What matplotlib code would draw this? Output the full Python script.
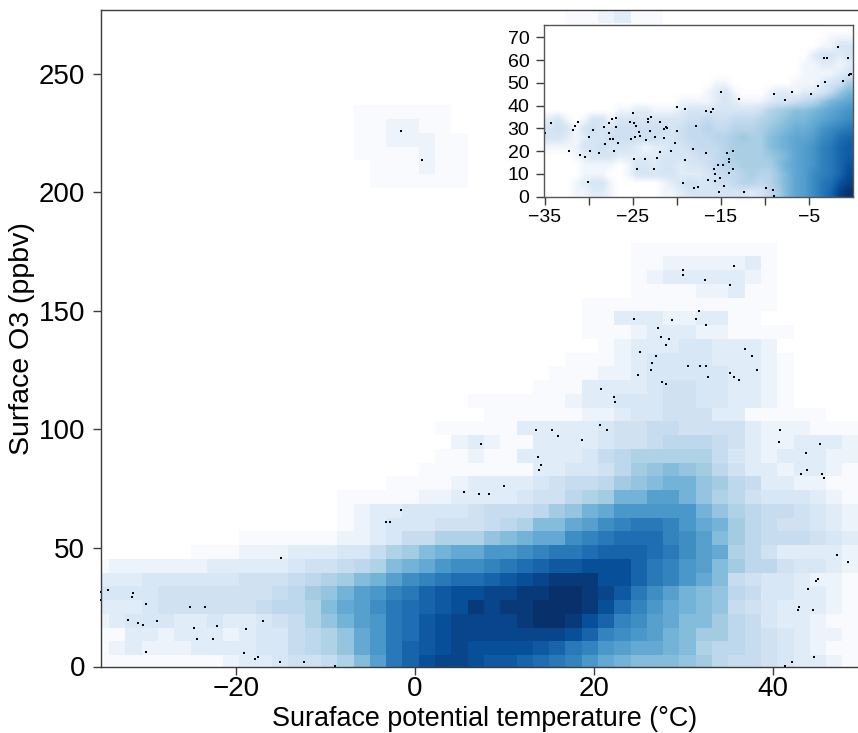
import numpy as np
import matplotlib
matplotlib.use("Agg")
import matplotlib.pyplot as plt
from matplotlib.colors import LinearSegmentedColormap, PowerNorm

plt.rcParams["font.family"] = ["Liberation Sans", "DejaVu Sans"]

BLANK = "0" * 47

# density of each grid cell, bottom row first, one character per cell (0-9 then a-p = 0..25)
main_density = [
    "1111111123 345568beik mnnmllkjih fdcbbba976 6543321",
    "1232223333 44678adfik lmnmmmmlki hfeddcb877 6543211",
    "1133233323 44678adfij lmnnnnnnnm khgfecb997 6543221",
    "2344433433 4568acefij lmnnnnoppo mkhgedbb97 6433211",
    "3334555555 6778bdegij klmonooppp omjhfdcba6 5433321",
    "4444555555 5679acefhi klmmnnoopp onligecba7 6443321",
    "3334444445 556789bceg hijjklmnoo ommkihfdb6 5443221",
    "1222222333 33455678bc dfgghijkll mmmkihfeb9 7754432",
    "0000001112 2233344689 bcddffghii jkkkjiged8 7533332",
    "0000000001 1111122346 6888abcddg hijjjhgeb9 7666543",
    "0000000000 0000012344 4555678bbd eghiihfdc9 7655432",
    "0000000000 0000012334 444566679a cdfffffca8 7665432",
    "0000000000 0000011111 2233334557 89cceeca87 5444321",
    "0000000000 0000000011 1123333456 679abcca97 6332211",
    "0000000000 0000000000 1111111334 4579aba975 3323321",
    "0000000000 0000000000 0112113333 4678888864 3233322",
    "0000000000 0000000000 0023211333 3455677765 3223332",
    "0000000000 0000000000 0111113333 3455665555 3222111",
    "0000000000 0000000000 0000111111 2234455533 1111100",
    "0000000000 0000000000 0001111112 3344455443 3210000",
    "0000000000 0000000000 0000000111 3333455443 3210000",
    "0000000000 0000000000 0000000011 1223444443 3210000",
    "0000000000 0000000000 0000000001 1123444433 3210000",
    "0000000000 0000000000 0000000000 0123334433 3200000",
    "0000000000 0000000000 0000000000 1112333221 1110000",
    "0000000000 0000000000 0000000000 1133322331 1000000",
    "0000000000 0000000000 0000000000 1111111111 1100000",
    "0000000000 0000000000 0000000000 0001111223 1100000",
    "0000000000 0000000000 0000000000 0001233333 2100000",
    "0000000000 0000000000 0000000000 0001122222 3100000",
    "0000000000 0000000000 0000000000 0001111111 1100000",
    BLANK, BLANK, BLANK, BLANK,
    "0000000000 0000000111 1110000000 0000000000 0000000",
    "0000000000 0000000111 2110000000 0000000000 0000000",
    "0000000000 0000001111 2110000000 0000000000 0000000",
    "0000000000 0000001122 2110000000 0000000000 0000000",
    "0000000000 0000001122 1100000000 0000000000 0000000",
    "0000000000 0000001111 1100000000 0000000000 0000000",
    BLANK, BLANK, BLANK, BLANK, BLANK,
    "0000000000 0000000000 0000000001 1111100000 0000000",
    "0000000000 0000000000 0000000001 1231100000 0000000",
]

# inset density: 1 degree by 4 ppbv cells, bottom row first
inset_density = [
    "00011221" "00000" "11" "2" "3333333" "2" "3" "57acd" "fhjnp",
    "00012331" "00000" "12" "3" "4" "33" "44" "56" "65" "68acd" "fhiln",
    "0000111" "00" "1" "33333" "222" "34" "55" "67" "66" "8acd" "fghjm",
    "0000" "1111" "0" "1" "33" "2" "33" "2" "33" "4" "5" "66" "7777" "9bcd" "eghjl",
    "000" "12333" "22222" "3333" "44" "5" "6" "7777" "8" "9" "acd" "eghjk",
    "1111" "33" "4" "333" "2" "1" "22" "33" "4" "555" "6" "7777" "9abcd" "eghjk",
    "33" "21" "2" "33" "444444" "33" "4" "555" "66" "7" "8" "77" "9abcc" "dfgij",
    "34" "3" "1" "34" "33" "444444" "3" "4" "55" "6" "55" "666" "7" "89abb" "cefgh",
    "23" "1" "0" "1" "33" "1" "33333333" "44" "5" "44" "555" "6" "789aa" "bcdef",
    "00000000" "11" "22" "111" "2" "33333333" "4" "67899" "abcde",
    "000000000000000" "1111" "2" "3" "2" "111" "2" "33" "4" "5" "68abc",
    "000000000000000000" "1231" "000" "1" "22" "1" "2" "2" "3" "5" "8" "a",
    "0000000000000000000" "11" "0000000" "111" "2347",
    "00000000000000000000000000000" "111123",
    "00000000000000000000000000000" "112212",
    "000000000000000000000000000000" "23323",
    "0000000000000000000000000000000" "1133",
    "00000000000000000000000000000000" "111",
    "00000000000000000000000000000000000",
]

main_temp = [-35.1, -34.3, -35.1, -31.5, -31.6, -30.0, -32.1, -30.9, -30.4, -28.8, -30.1, -25.1, -23.5,
             -24.7, -24.4, -22.6, -22.1, -18.9, -17.0, -19.1, -17.9, -17.5, -15.1, -12.4, -8.9, -15.0,
             -3.2, -2.8, -1.6, 7.4, 5.5, 7.1, 8.3, 9.9, 22.3, 13.5, 15.3, 16.0, 18.7, 20.7, 21.5, 13.7,
             14.1, 13.9, 40.8, 40.7, 45.3, 43.7, 43.1, 43.8, 45.5, 45.7, 47.2, 48.4, 45.0, 44.8, 43.9,
             42.9, 42.8, 44.5, 44.6, 42.1, 41.3, -1.6, 0.8, 29.9, 30.0, 32.4, 35.7, 35.2, 31.7, 31.4,
             32.5, 24.5, 28.7, 27.1, 27.5, 28.4, 28.0, 25.1, 26.9, 26.5, 26.4, 24.9, 30.5, 31.9, 32.5,
             32.7, 27.6, 28.1, 36.9, 37.7, 38.2, 35.2, 35.6, 36.2, 20.8, 22.2, 22.3]
main_o3 = [31.4, 32.2, 27.9, 31.1, 29.3, 26.2, 19.8, 18.3, 17.4, 19.3, 6.2, 25.2, 25.1,
           16.3, 11.8, 11.8, 16.9, 15.9, 19.4, 5.9, 3.2, 3.9, 1.8, 1.8, 0.2, 45.9,
           60.9, 60.9, 65.9, 93.9, 73.8, 72.8, 72.8, 76.0, 111.8, 99.9, 99.9, 97.1, 95.4, 102.1, 99.9, 88.3,
           85.0, 82.9, 99.9, 94.9, 93.9, 89.9, 81.4, 82.8, 81.4, 79.5, 46.9, 44.0, 37.0, 35.9, 32.8,
           24.9, 23.8, 23.9, 3.9, 1.8, 0.2, 225.8, 213.7, 167.1, 165.1, 163.0, 168.8, 161.0, 150.0, 146.8,
           144.0, 146.8, 146.0, 142.7, 138.9, 138.0, 135.8, 132.9, 130.9, 128.0, 124.9, 122.8, 126.8, 126.8, 126.8,
           122.0, 119.9, 119.1, 133.9, 130.9, 124.9, 124.0, 122.0, 120.8, 117.0, 113.9, 111.8]

inset_temp = [-35.0, -34.3, -31.8, -31.6, -31.2, -30.0, -29.5, -32.2, -31.0, -30.4, -29.8, -28.8, -30.1,
              -28.2, -28.3, -27.7, -27.4, -26.9, -26.9, -27.7, -27.6, -27.2, -26.7, -27.1, -25.0, -25.3,
              -24.9, -24.6, -24.3, -24.7, -24.2, -25.2, -23.5, -23.0, -22.5, -23.3, -23.3, -22.9, -21.9,
              -21.4, -21.4, -21.2, -21.1, -20.0, -20.0, -19.1, -17.8, -20.2, -20.7, -18.2, -21.9, -22.2,
              -24.8, -23.6, -24.5, -22.6, -19.1, -19.3, -18.0, -17.6, -15.0, -12.9, -16.7, -16.1, -15.9,
              -16.7, -14.3, -13.6, -14.1, -14.1, -14.7, -15.3, -15.8, -15.7, -14.1, -13.6, -15.1, -16.5,
              -15.7, -14.6, -15.2, -12.4, -9.8, -9.1, -9.0, -8.9, -7.7, -6.9, -4.7, -3.9, -3.1, -3.25,
              -2.9, -1.7, -0.5, -1.1, -0.4, -0.3, -0.2]
inset_o3 = [27.8, 32.2, 29.4, 31.2, 32.9, 26.2, 29.4, 20.2, 18.3, 17.4, 19.9, 19.2, 6.3,
            23.0, 30.6, 32.5, 34.1, 34.6, 30.6, 28.1, 25.5, 25.5, 23.6, 19.9, 36.8, 32.8,
            32.4, 30.9, 28.5, 26.2, 26.5, 25.2, 24.9, 28.7, 26.3, 34.0, 32.8, 35.0, 32.7,
            25.6, 29.6, 30.7, 30.1, 29.0, 39.5, 38.5, 31.0, 23.4, 20.2, 20.8, 19.6, 17.1,
            16.4, 16.4, 12.0, 12.0, 16.0, 5.9, 3.7, 4.1, 46.0, 43.0, 37.8, 37.1, 38.6,
            19.2, 19.1, 19.9, 16.6, 15.1, 14.1, 13.8, 12.2, 9.8, 10.5, 12.0, 8.1, 7.2,
            6.9, 4.7, 1.9, 1.9, 4.0, 2.9, 0.3, 45.1, 42.5, 46.0, 45.1, 48.7, 50.2, 60.9,
            60.9, 65.9, 60.9, 50.9, 53.4, 53.9, 54.0]

main_xticks = [-20, 0, 20, 40]
main_yticks = [0, 50, 100, 150, 200, 250]
inset_xticks = [-35, -30, -25, -20, -15, -10, -5]
inset_xlabels = ["\u221235", "", "\u221225", "", "\u221215", "", "\u22125"]
inset_yticks = [0, 10, 20, 30, 40, 50, 60, 70]


def decode(rows):
    """turns the character rows into a numeric array"""
    return np.array([[int(c, 36) for c in r.replace(" ", "")] for r in rows], dtype=float)


DARK = "#3c3c3c"
W, H = 858, 733

cmap = LinearSegmentedColormap.from_list("smooth_blues", [
    (0.0, "#ffffff"), (0.04, "#f8fafe"), (0.125, "#deebf7"), (0.25, "#c6dbef"), (0.375, "#9ecae1"),
    (0.5, "#6baed6"), (0.625, "#4292c6"), (0.75, "#2171b5"), (0.875, "#08519c"), (1.0, "#08306b")])

fig = plt.figure(figsize=(W / 100, H / 100), dpi=100)
ax = fig.add_axes([101 / W, (H - 666.5) / H, (W - 101) / W, 656.5 / H])

grid = decode(main_density)
x_edges = -36.0 + 1.821 * np.arange(grid.shape[1] + 1)
y_edges = -1.0 + 5.80 * np.arange(grid.shape[0] + 1)
ax.pcolormesh(x_edges, y_edges, grid, cmap=cmap, vmin=0, vmax=25, rasterized=True)
ax.plot(main_temp, main_o3, "s", color="black", ms=1.8, mew=0, clip_on=False)

ax.set_xlim(-35.08, 49.5)
ax.set_ylim(0, 277)
ax.set_xticks(main_xticks)
ax.set_xticklabels(["\u221220", "0", "20", "40"])
ax.set_yticks(main_yticks)
ax.tick_params(length=5.5, width=1, color=DARK, labelsize=20)
ax.tick_params(axis="x", pad=1.5)
ax.tick_params(axis="y", pad=6)
ax.set_xlabel("Suraface potential temperature (\u00b0C)", fontsize=19.4)
ax.xaxis.set_label_coords((484.7 - 101) / 757, -39.5 / 656.5)
ax.set_ylabel("Surface O3 (ppbv)", fontsize=20.5)
ax.yaxis.set_label_coords(-66 / 757, 0.5)
for s in ax.spines.values():
    s.set_color(DARK)
    s.set_linewidth(1)
ax.spines["right"].set_visible(False)

# inset, zoomed on the cold end
ins = fig.add_axes([544 / W, (H - 196.7) / H, (852.7 - 544) / W, 171.4 / H])
ins.imshow(decode(inset_density), origin="lower", extent=(-35, 0, 0, 76), cmap=cmap,
           norm=PowerNorm(gamma=0.85, vmin=0, vmax=25), interpolation="bilinear", aspect="auto")
ins.plot(inset_temp, inset_o3, "s", color="black", ms=1.8, mew=0, clip_on=False)
ins.set_xlim(-35.08, 0)
ins.set_ylim(0, 75.3)
ins.set_xticks(inset_xticks)
ins.set_xticklabels(inset_xlabels)
ins.set_yticks(inset_yticks)
ins.tick_params(length=5.5, width=1, color=DARK, labelsize=14)
ins.tick_params(axis="x", pad=3)
ins.tick_params(axis="y", pad=5)
for s in ins.spines.values():
    s.set_color("#555555")
    s.set_linewidth(1)

fig.savefig("out.png", dpi=100)
